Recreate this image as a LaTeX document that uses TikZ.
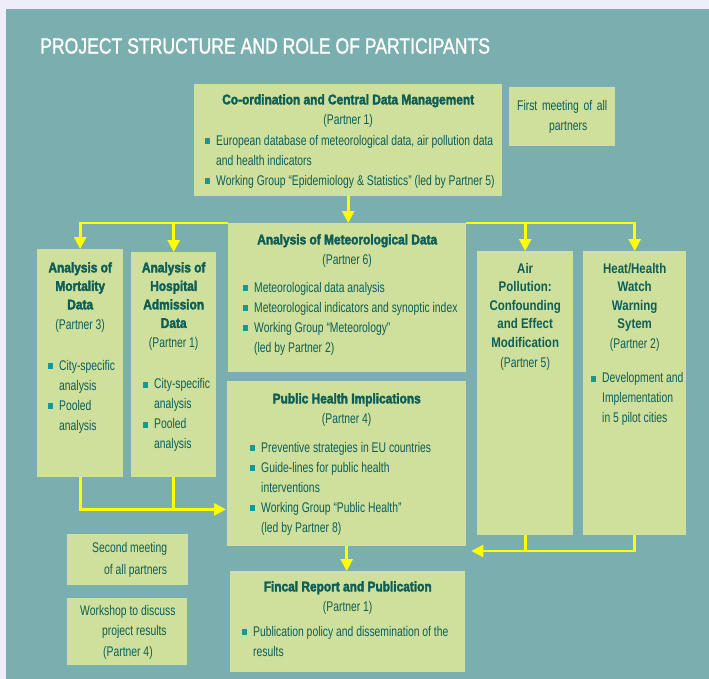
\documentclass[tikz,border=0pt]{standalone}
\usepackage{fontspec}
\setmainfont{Liberation Sans}[FakeStretch=0.74]
\newfontfamily\hdfont{Liberation Sans}[UprightFont={* Bold}, FakeStretch=0.85, FakeBold=2.5]
\newfontfamily\hdlfont{Liberation Sans}[FakeStretch=0.82]
\newfontfamily\ttlfont{Liberation Sans}[FakeStretch=0.8, FakeBold=1.2]
\usetikzlibrary{arrows.meta,positioning,calc}
\setlength{\parindent}{0pt}

\definecolor{pagebg}{HTML}{EDEEF9}
\definecolor{panel}{HTML}{7BAEAE}
\definecolor{boxfill}{HTML}{CEE09C}
\definecolor{txtcol}{HTML}{0E5E58}
\definecolor{bulcol}{HTML}{119A98}
\definecolor{arrowyellow}{HTML}{FFFF00}

% box contents
\newcommand{\hd}[1]{{\centering\hdfont\fontsize{14}{18.5}\selectfont #1\par}}
\newcommand{\hdl}[1]{{\centering\hdlfont\bfseries\fontsize{14}{18.5}\selectfont #1\par}}
\newcommand{\prt}[1]{{\centering(Partner #1)\par}}
\newcommand{\bitem}[2]{{\leftskip=#1\relax\rightskip=-40pt plus 1fil\relax
  \hangindent=11pt\hangafter=1\noindent
  \makebox[11pt][l]{\textcolor{bulcol}{\rule[1pt]{4.5pt}{6pt}}}#2\par}}

\tikzset{
  pbox/.style = {rectangle, fill=boxfill, inner sep=0pt, anchor=north west},
  ptext/.style = {inner sep=0pt, text=txtcol, align=flush left, font=\fontsize{14}{20}\selectfont},
  ptitle/.style = {inner sep=0pt, anchor=west, text=white, font=\ttlfont\fontsize{22}{22}\selectfont},
  yline/.style = {draw=arrowyellow, line width=2.6pt},
  yarrow/.style = {yline, -{Triangle[length=12pt, width=12pt]}},
}

\begin{document}
\begin{tikzpicture}[x=1pt,y=-1pt]
\fill[pagebg] (0,0) rectangle (709,679);
\fill[panel] (6,9) rectangle (709,679);
\useasboundingbox (0,0) rectangle (709,679);

\node[ptitle] (title) at (40,46) {PROJECT STRUCTURE AND ROLE OF PARTICIPANTS};

% boxes
\node[pbox, minimum width=308, minimum height=112] (coord) at (194,84) {};
\node[pbox, minimum width=106, minimum height=59] (first) at (509,87) {};
\node[pbox, minimum width=238, minimum height=149] (meteo) at (228,223) {};
\node[pbox, minimum width=86, minimum height=228] (mort) at (37,249) {};
\node[pbox, minimum width=85, minimum height=225] (hosp) at (131,252) {};
\node[pbox, minimum width=96, minimum height=284] (air) at (477,251) {};
\node[pbox, minimum width=103, minimum height=284] (heat) at (583,251) {};
\node[pbox, minimum width=239, minimum height=165] (ph) at (227,381) {};
\node[pbox, minimum width=235, minimum height=101] (fin) at (230,571) {};
\node[pbox, minimum width=121, minimum height=51] (second) at (67,534) {};
\node[pbox, minimum width=120, minimum height=67] (wshop) at (67,598) {};

% texts
\node[ptext, text width=308pt, below=10pt of coord.north] (coordtx) {%
  \hd{Co-ordination and Central Data Management}\prt{1}\vspace{1pt}%
  \bitem{11pt}{European database of meteorological data, air pollution data\newline and health indicators}%
  \bitem{11pt}{Working Group “Epidemiology \& Statistics” (led by Partner 5)}};
\node[ptext, text width=106pt, align=center, below=13pt of first.north] (firsttx) {%
  First meeting of all\\\hspace*{12pt}partners};
\node[ptext, text width=238pt, below=11pt of meteo.north] (meteotx) {%
  \hd{Analysis of Meteorological Data}\prt{6}\vspace{8pt}%
  \bitem{15pt}{Meteorological data analysis}%
  \bitem{15pt}{Meteorological indicators and synoptic index}%
  \bitem{15pt}{Working Group “Meteorology”\newline (led by Partner 2)}};
\node[ptext, text width=86pt, below=13pt of mort.north] (morttx) {%
  \hd{Analysis of\\Mortality\\Data}\prt{3}\vspace{21pt}%
  \bitem{11pt}{City-specific\newline analysis}%
  \bitem{11pt}{Pooled\newline analysis}};
\node[ptext, text width=85pt, below=10pt of hosp.north] (hosptx) {%
  \hd{Analysis of\\Hospital\\Admission\\Data}\prt{1}\vspace{21pt}%
  \bitem{12pt}{City-specific\newline analysis}%
  \bitem{12pt}{Pooled\newline analysis}};
\node[ptext, text width=96pt, below=12pt of air.north] (airtx) {%
  \hdl{Air\\Pollution:\\Confounding\\and Effect\\Modification}\prt{5}};
\node[ptext, text width=103pt, below=12pt of heat.north] (heattx) {%
  \hdl{Heat/Health\\Watch\\Warning\\Sytem}\prt{2}\vspace{14pt}%
  \bitem{8pt}{Development and\newline Implementation\newline in 5 pilot cities}};
\node[ptext, text width=239pt, below=12pt of ph.north] (phtx) {%
  \hd{Public Health Implications}\prt{4}\vspace{9pt}%
  \bitem{23pt}{Preventive strategies in EU countries}%
  \bitem{23pt}{Guide-lines for public health\newline interventions}%
  \bitem{23pt}{Working Group “Public Health”\newline (led by Partner 8)}};
\node[ptext, text width=235pt, below=10pt of fin.north] (fintx) {%
  \hd{Fincal Report and Publication}\prt{1}\vspace{5pt}%
  \bitem{12pt}{Publication policy and dissemination of the\newline results}};
\node[ptext, text width=121pt, font=\fontsize{14}{22}\selectfont, below=8pt of second.north] (secondtx) {%
  \hspace*{25pt}Second meeting\\\hspace*{37pt}of all partners};
\node[ptext, text width=120pt, font=\fontsize{14}{20.5}\selectfont, below=7pt of wshop.north] (wshoptx) {%
  \hspace*{13pt}Workshop to discuss\\\hspace*{35pt}project results\\\hspace*{36pt}(Partner 4)};

% connectors
\coordinate (phin) at ($(ph.south west)+(-1,-37)$);
\coordinate (finin) at ($(fin.north east)+(6,-20)$);
\draw[yarrow] (coord.south) -- (coord.south |- meteo.north);
\draw[yarrow] (meteo.north west) -| (mort.north);
\draw[yarrow] (meteo.north west) -| (hosp.north);
\draw[yarrow] (meteo.north east) -| (air.north);
\draw[yarrow] (meteo.north east) -| (heat.north);
\draw[yline] (hosp.south) -- (hosp.south |- phin);
\draw[yarrow] (mort.south) |- (phin);
\draw[yline] (air.south) -- (air.south |- finin);
\draw[yarrow] (heat.south) |- (finin);
\draw[yarrow] (ph.south) -- (ph.south |- fin.north);
\end{tikzpicture}
\end{document}
